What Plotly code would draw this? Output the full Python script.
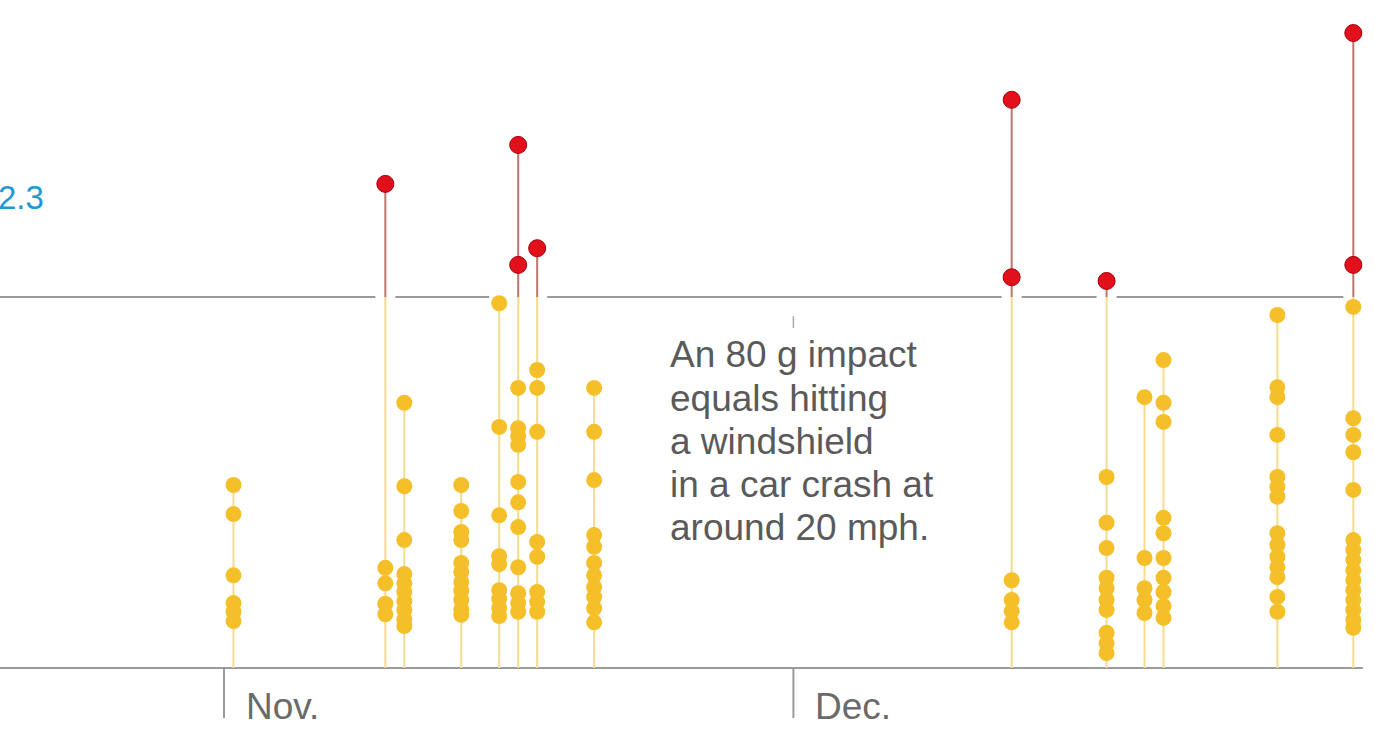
import plotly.graph_objects as go
import pandas as pd

# ---- data (g-force of recorded head impacts per day) ----
dates = ["2014-11-01", "2014-11-09", "2014-11-10", "2014-11-13", "2014-11-15",
         "2014-11-16", "2014-11-17", "2014-11-20", "2014-12-12", "2014-12-17",
         "2014-12-19", "2014-12-20", "2014-12-26", "2014-12-30"]

yellow_g = [
    [49.6, 44.9, 35.0, 30.5, 29.1, 27.6],
    [36.2, 33.7, 30.4, 28.7],
    [62.9, 49.4, 40.7, 35.2, 33.7, 32.3, 30.8, 29.4, 27.9, 26.8],
    [49.6, 45.4, 42.0, 40.7, 37.0, 35.5, 33.9, 32.5, 31.0, 29.5, 28.6],
    [79.0, 59.0, 44.7, 38.1, 36.8, 32.6, 31.2, 29.7, 28.4],
    [65.3, 58.8, 57.5, 56.1, 50.1, 46.8, 42.8, 36.3, 32.1, 30.5, 29.1],
    [68.2, 65.3, 58.2, 40.4, 38.0, 32.3, 30.7, 29.1],
    [65.3, 58.2, 50.4, 41.5, 39.6, 37.0, 35.0, 33.1, 31.5, 29.7, 27.4],
    [34.2, 31.0, 29.2, 27.4],
    [50.9, 43.5, 39.4, 34.6, 32.9, 31.0, 29.4, 25.7, 24.0, 22.4],
    [63.8, 37.8, 32.9, 31.0, 28.9],
    [69.8, 62.9, 59.8, 44.3, 41.8, 37.8, 34.6, 32.3, 30.0, 28.1],
    [77.1, 65.4, 63.8, 57.7, 50.9, 49.3, 47.7, 41.8, 39.9, 38.0, 36.3, 34.7, 31.5, 29.1],
    [78.4, 60.4, 57.7, 54.9, 48.8, 40.7, 39.1, 37.5, 35.8, 34.2, 32.6, 31.0, 29.4, 27.8, 26.5],
]

red_g = [
    [], [98.3], [], [], [],
    [104.6, 85.2], [87.9], [], [111.9, 83.2], [82.6],
    [], [], [], [122.7, 85.2],
]

threshold = 80
base = 20
month_ticks = ["2014-11-01", "2014-12-01"]
month_labels = ["Nov.", "Dec."]
note_lines = ["An 80 g impact", "equals hitting", "a windshield",
              "in a car crash at", "around 20 mph."]
side_label = "2.3"

# ---- styles ----
YEL = "#f5bf2a"
YEL_STEM = "#f3dc8e"
RED = "#e2101b"
RED_STEM = "#b9766e"
GRAY = "#9a9a9a"
TXT = "#5a5a5a"
FONT = "Liberation Sans, Arial, sans-serif"

xs = [pd.Timestamp(d) + pd.Timedelta(hours=12) for d in dates]

W, H = 1375, 730
px_per_day = 18.98
nov1 = pd.Timestamp("2014-11-01")
x0 = nov1 - pd.Timedelta(days=224 / px_per_day)
x1 = nov1 + pd.Timedelta(days=(W - 224) / px_per_day)
y_rng = [9.98, 128.04]

fig = go.Figure()

# white knock-outs where stems cross the 80 g line
gx, gy = [], []
for x, yv, rv in zip(xs, yellow_g, red_g):
    top = max(yv + rv)
    if top >= 78:
        gx += [x, x, None]
        gy += [threshold - 0.5, threshold + 0.5, None]
fig.add_trace(go.Scatter(x=gx, y=gy, mode="lines",
                         line=dict(color="white", width=20), hoverinfo="skip"))

# yellow stems (below threshold)
sx, sy = [], []
for x, yv, rv in zip(xs, yellow_g, red_g):
    top = threshold if rv else max(yv)
    sx += [x, x, None]
    sy += [base, top, None]
fig.add_trace(go.Scatter(x=sx, y=sy, mode="lines",
                         line=dict(color=YEL_STEM, width=2), hoverinfo="skip"))

# red stems (above threshold)
rx, ry = [], []
for x, rv in zip(xs, red_g):
    if rv:
        rx += [x, x, None]
        ry += [threshold, max(rv), None]
fig.add_trace(go.Scatter(x=rx, y=ry, mode="lines",
                         line=dict(color=RED_STEM, width=2), hoverinfo="skip"))

# yellow dots
px_, py_ = [], []
for x, yv in zip(xs, yellow_g):
    px_ += [x] * len(yv)
    py_ += yv
fig.add_trace(go.Scatter(x=px_, y=py_, mode="markers",
                         marker=dict(color=YEL, size=16, line=dict(width=0))))

# red dots
qx, qy = [], []
for x, rv in zip(xs, red_g):
    qx += [x] * len(rv)
    qy += rv
fig.add_trace(go.Scatter(x=qx, y=qy, mode="markers",
                         marker=dict(color=RED, size=17, line=dict(color="#a3000c", width=1))))

shapes = []
# baseline
shapes.append(dict(type="line", xref="x", yref="y", x0=x0, x1=pd.Timestamp("2014-12-31"),
                   y0=base, y1=base, line=dict(color=GRAY, width=2), layer="below"))
# 80 g line
shapes.append(dict(type="line", xref="x", yref="y", x0=x0, x1=pd.Timestamp("2014-12-31"),
                   y0=threshold, y1=threshold, line=dict(color=GRAY, width=2), layer="below"))
# month ticks
for t in month_ticks:
    shapes.append(dict(type="line", xref="x", yref="y", x0=t, x1=t, y0=base, y1=11.9,
                       line=dict(color=GRAY, width=2), layer="below"))
# small mark above note
shapes.append(dict(type="line", xref="x", yref="y", x0=month_ticks[1], x1=month_ticks[1],
                   y0=76.9, y1=75.0, line=dict(color="#aaaaaa", width=1.5), layer="below"))

annotations = []
for t, lab in zip(month_ticks, month_labels):
    annotations.append(dict(x=t, y=13.85, xref="x", yref="y", text=lab, showarrow=False,
                            xanchor="left", yanchor="middle", xshift=20,
                            font=dict(family=FONT, size=37, color="#6a6a6a")))
for i, line in enumerate(note_lines):
    annotations.append(dict(x=668 / W, y=1 - (355 + 43 * i) / H, xref="paper", yref="paper",
                            text=line, showarrow=False, xanchor="left", yanchor="middle",
                            font=dict(family=FONT, size=37, color=TXT)))
annotations.append(dict(x=0, y=1 - 197 / H, xref="paper", yref="paper", text=side_label,
                        showarrow=False, xanchor="left", yanchor="middle", xshift=-4,
                        font=dict(family=FONT, size=33, color="#1d9ad3")))

fig.update_layout(
    width=W, height=H,
    margin=dict(l=0, r=0, t=0, b=0),
    paper_bgcolor="white", plot_bgcolor="white",
    showlegend=False, hovermode=False,
    xaxis=dict(type="date", range=[x0, x1], visible=False, fixedrange=True),
    yaxis=dict(range=y_rng, visible=False, fixedrange=True),
    shapes=shapes, annotations=annotations,
)

fig.write_html("out.html", config={"displayModeBar": False},
               post_script="document.body.style.margin='0';document.body.style.overflow='hidden';")
